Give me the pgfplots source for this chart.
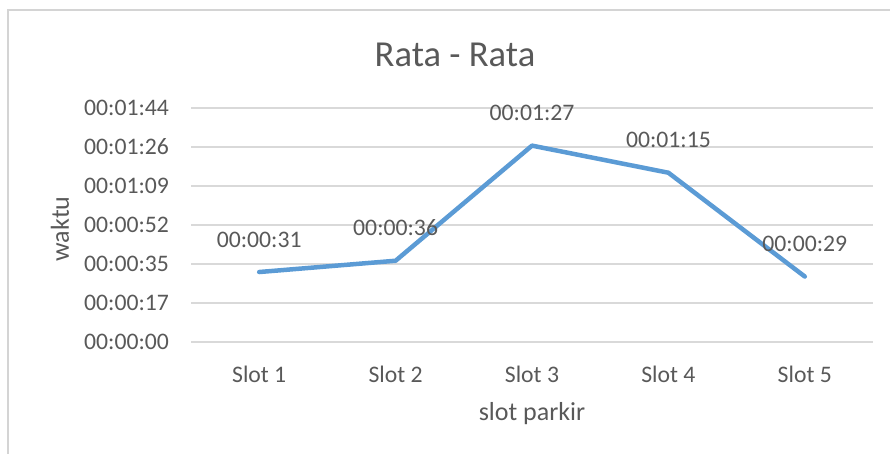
\documentclass[border=0pt]{standalone}
\usepackage{pgfplots}
\pgfplotsset{compat=1.18}
\usepackage{pgfplotstable}
\usepackage{fontspec}
\setmainfont{Carlito}
\definecolor{txtgray}{HTML}{595959}
\definecolor{gridgray}{HTML}{D9D9D9}
\definecolor{bordergray}{HTML}{D4D4D4}
\definecolor{lineblue}{HTML}{5B9BD5}

\pgfplotstableread{
x y lab
1 31 00:00:31
2 36 00:00:36
3 87 00:01:27
4 75 00:01:15
5 29 00:00:29
}\rata

\begin{document}
\begin{tikzpicture}
\path[use as bounding box] (0,0) rectangle (445pt,227pt);
% chart frame
\draw[bordergray, line width=0.75pt] (4pt,0pt) -- (4pt,222pt) -- (445pt,222pt);
\begin{axis}[
  at={(95.5pt,56pt)}, anchor=south west,
  scale only axis, width=341pt, height=117pt,
  xmin=0.5, xmax=5.5, ymin=0, ymax=103.68,
  axis line style={draw=none},
  xtick={1,2,3,4,5},
  xticklabels={Slot 1,Slot 2,Slot 3,Slot 4,Slot 5},
  ytick={0,17.28,34.56,51.84,69.12,86.4,103.68},
  yticklabels={00:00:00,00:00:17,00:00:35,00:00:52,00:01:09,00:01:26,00:01:44},
  major tick length=0pt,
  ymajorgrids,
  grid style={gridgray, line width=0.75pt},
  tick label style={font=\fontsize{11.85}{14}\selectfont, text=txtgray},
  yticklabel style={anchor=east, xshift=-7.5pt},
  xticklabel style={anchor=base, yshift=-20.5pt},
  clip=false,
]
\addplot[lineblue, line width=2.25pt, line cap=round, line join=round,
  nodes near coords, point meta=explicit symbolic,
  nodes near coords style={anchor=base, yshift=12.5pt, font=\fontsize{11.85}{14}\selectfont, text=txtgray}]
  table[x=x, y=y, meta=lab] {\rata};
\end{axis}
\node[font=\fontsize{18.3}{22}\selectfont, text=txtgray] at (227.5pt,199.5pt) {Rata - Rata};
\node[font=\fontsize{13}{16}\selectfont, text=txtgray] at (266pt,20pt) {slot parkir};
\node[font=\fontsize{13}{16}\selectfont, text=txtgray, rotate=90] at (30pt,112.5pt) {waktu};
\end{tikzpicture}
\end{document}
